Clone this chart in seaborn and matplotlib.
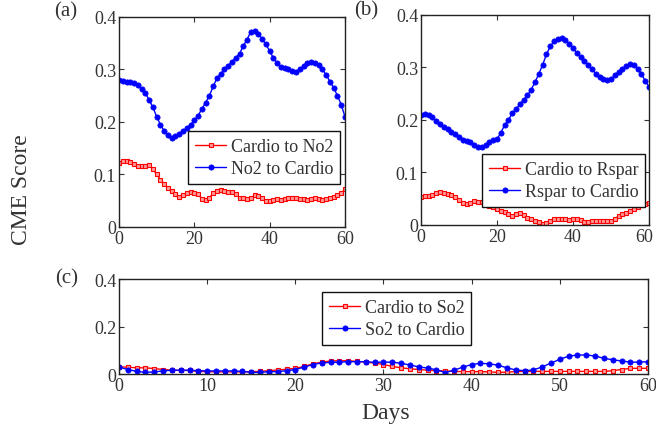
import numpy as np
import pandas as pd
import seaborn as sns
import matplotlib.pyplot as plt
from matplotlib.transforms import ScaledTranslation

# Dados (dias 0..60)
dias = list(range(61))

no2_cardio = [0.280, 0.278, 0.277, 0.277, 0.275, 0.270, 0.262, 0.255, 0.242, 0.228,
              0.210, 0.195, 0.183, 0.175, 0.170, 0.173, 0.178, 0.183, 0.188, 0.195,
              0.203, 0.212, 0.225, 0.237, 0.250, 0.268, 0.283, 0.292, 0.300, 0.307,
              0.315, 0.322, 0.330, 0.345, 0.357, 0.372, 0.373, 0.368, 0.358, 0.348,
              0.335, 0.322, 0.312, 0.305, 0.302, 0.300, 0.297, 0.296, 0.300, 0.306,
              0.312, 0.314, 0.313, 0.308, 0.300, 0.290, 0.277, 0.265, 0.250, 0.233,
              0.210]
cardio_no2 = [0.122, 0.126, 0.126, 0.124, 0.120, 0.117, 0.116, 0.117, 0.118, 0.110,
              0.100, 0.090, 0.082, 0.074, 0.068, 0.062, 0.058, 0.060, 0.065, 0.066,
              0.065, 0.062, 0.054, 0.052, 0.056, 0.064, 0.068, 0.070, 0.068, 0.067,
              0.066, 0.062, 0.056, 0.055, 0.054, 0.056, 0.060, 0.059, 0.055, 0.050,
              0.049, 0.052, 0.053, 0.052, 0.054, 0.055, 0.056, 0.055, 0.054, 0.053,
              0.052, 0.054, 0.055, 0.054, 0.052, 0.053, 0.056, 0.058, 0.060, 0.064,
              0.072]

rspar_cardio = [0.210, 0.212, 0.210, 0.205, 0.198, 0.192, 0.187, 0.182, 0.177, 0.173,
                0.167, 0.162, 0.160, 0.158, 0.152, 0.148, 0.149, 0.153, 0.158, 0.162,
                0.163, 0.176, 0.190, 0.200, 0.213, 0.220, 0.230, 0.238, 0.247, 0.258,
                0.272, 0.288, 0.305, 0.325, 0.340, 0.350, 0.355, 0.356, 0.352, 0.345,
                0.338, 0.327, 0.320, 0.313, 0.305, 0.297, 0.288, 0.282, 0.278, 0.277,
                0.278, 0.285, 0.292, 0.297, 0.303, 0.306, 0.305, 0.297, 0.287, 0.275,
                0.263]
cardio_rspar = [0.054, 0.055, 0.056, 0.058, 0.061, 0.063, 0.061, 0.059, 0.057, 0.054,
                0.048, 0.041, 0.040, 0.042, 0.046, 0.044, 0.044, 0.040, 0.037, 0.035,
                0.031, 0.027, 0.024, 0.020, 0.018, 0.020, 0.023, 0.019, 0.013, 0.011,
                0.008, 0.006, 0.002, 0.003, 0.008, 0.012, 0.012, 0.012, 0.011, 0.009,
                0.011, 0.012, 0.009, 0.005, 0.006, 0.008, 0.008, 0.008, 0.008, 0.007,
                0.008, 0.012, 0.017, 0.020, 0.023, 0.026, 0.030, 0.035, 0.038, 0.040,
                0.041]

so2_cardio = [0.029, 0.019, 0.011, 0.007, 0.009, 0.013, 0.016, 0.016, 0.016, 0.014,
              0.013, 0.013, 0.013, 0.013, 0.011, 0.007, 0.007, 0.010, 0.010, 0.014,
              0.019, 0.029, 0.040, 0.047, 0.049, 0.050, 0.052, 0.052, 0.052, 0.049,
              0.050, 0.050, 0.045, 0.038, 0.030, 0.025, 0.018, 0.006, 0.016, 0.029,
              0.040, 0.045, 0.043, 0.037, 0.026, 0.017, 0.014, 0.017, 0.030, 0.046,
              0.062, 0.075, 0.080, 0.080, 0.076, 0.066, 0.060, 0.055, 0.050, 0.050,
              0.052]
cardio_so2 = [0.030, 0.029, 0.026, 0.026, 0.023, 0.019, 0.016, 0.015, 0.015, 0.011,
              0.010, 0.009, 0.009, 0.009, 0.009, 0.010, 0.011, 0.014, 0.017, 0.020,
              0.024, 0.032, 0.043, 0.050, 0.055, 0.056, 0.056, 0.053, 0.050, 0.046,
              0.040, 0.032, 0.026, 0.022, 0.019, 0.016, 0.014, 0.013, 0.011, 0.010,
              0.010, 0.010, 0.009, 0.007, 0.008, 0.010, 0.011, 0.011, 0.011, 0.011,
              0.011, 0.011, 0.011, 0.011, 0.011, 0.011, 0.014, 0.019, 0.024, 0.024,
              0.024]

sns.set_style("ticks")
plt.rcParams['font.family'] = ['Liberation Serif', 'DejaVu Serif']

cor_txt = '#333333'
fig = plt.figure(figsize=(6.56, 4.35), dpi=100)

ax_a = fig.add_axes([0.1814, 0.4759, 0.3445, 0.4828])
ax_b = fig.add_axes([0.6418, 0.4805, 0.3476, 0.4828])
ax_c = fig.add_axes([0.1814, 0.1379, 0.8064, 0.2184])

paineis = [
    (ax_a, cardio_no2, no2_cardio, 'Cardio to No2', 'No2 to Cardio',
     [0, 0.1, 0.2, 0.3, 0.4], [0, 20, 40, 60], (0.2866, 0.6966)),
    (ax_b, cardio_rspar, rspar_cardio, 'Cardio to Rspar', 'Rspar to Cardio',
     [0, 0.1, 0.2, 0.3, 0.4], [0, 20, 40, 60], (0.7348, 0.6437)),
    (ax_c, cardio_so2, so2_cardio, 'Cardio to So2', 'So2 to Cardio',
     [0, 0.2, 0.4], [0, 10, 20, 30, 40, 50, 60], (0.4909, 0.3264)),
]

for ax, vermelho, azul, lab_r, lab_b, yt, xt, pos_leg in paineis:
    df = pd.DataFrame({'dia': dias, lab_r: vermelho, lab_b: azul})
    sns.lineplot(data=df, x='dia', y=lab_r, ax=ax, color='#ff0000', marker='s',
                 markersize=3.2, markerfacecolor='#ff9a9a', markeredgecolor='#ff0000',
                 markeredgewidth=0.8, linewidth=1.0, label=lab_r)
    sns.lineplot(data=df, x='dia', y=lab_b, ax=ax, color='#0000ff', marker='o',
                 markersize=3.8, markeredgecolor='#0000ff', markeredgewidth=0.5,
                 linewidth=1.0, label=lab_b)
    ax.set_xlim(0, 60)
    ax.set_ylim(0, 0.4)
    ax.set_xticks(xt)
    ax.set_yticks(yt)
    ax.set_yticklabels([f'{v:g}' for v in yt])
    ax.set_xlabel('')
    ax.set_ylabel('')
    ax.tick_params(direction='in', length=3.5, width=0.8, top=True, right=True,
                   labelsize=13, colors=cor_txt, pad=2)
    for s in ax.spines.values():
        s.set_visible(True)
        s.set_color('#222222')
        s.set_linewidth(1.0)
    leg = ax.legend(loc='upper left', bbox_to_anchor=pos_leg, bbox_transform=fig.transFigure,
                    fontsize=13, frameon=True, fancybox=False, framealpha=1,
                    edgecolor='#111111', borderpad=0.38, labelspacing=0.3,
                    handlelength=1.75, handletextpad=0.25, borderaxespad=0)
    leg.get_frame().set_linewidth(1.0)
    for t in leg.get_texts():
        t.set_color(cor_txt)

# o "60" do painel (b) fica colado na borda da figura
ultimo = ax_b.get_xticklabels()[-1]
ultimo.set_transform(ultimo.get_transform() + ScaledTranslation(-5 / 100, 0, fig.dpi_scale_trans))

fig.text(66 / 656, 1 - 12 / 435, '(a)', fontsize=15, color=cor_txt, ha='center', va='center')
fig.text(366 / 656, 1 - 11 / 435, '(b)', fontsize=15, color=cor_txt, ha='center', va='center')
fig.text(67 / 656, 1 - 279 / 435, '(c)', fontsize=15, color=cor_txt, ha='center', va='center')
fig.text(22 / 656, 1 - 190 / 435, 'CME Score', fontsize=17, color=cor_txt,
         rotation=90, ha='center', va='center')
fig.text(386 / 656, 1 - 414 / 435, 'Days', fontsize=17, color=cor_txt, ha='center', va='center')

plt.savefig('out.png', dpi=100)
plt.close()
